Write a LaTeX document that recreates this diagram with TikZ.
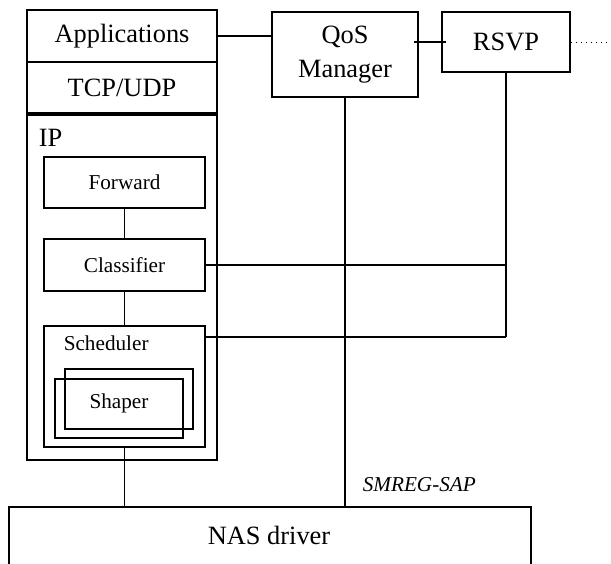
\documentclass[tikz,border=0pt]{standalone}
\usepackage{fontspec}
\setmainfont{Liberation Serif}
\usetikzlibrary{calc}

\begin{document}
\begin{tikzpicture}[x=0.5pt, y=-0.5pt, line width=0.8pt,
	box/.style={draw, rectangle, inner sep=0pt},
	big/.style={font=\fontsize{13.2}{17}\selectfont},
	small/.style={font=\fontsize{10.6}{12.5}\selectfont}]
	\useasboundingbox (0,0) rectangle (611,563);
	\clip (0,0) rectangle (611,563);
	% protocol stack
	\node [box, big, minimum width=95pt, minimum height=26pt] (apps) at (122,36) {Applications};
	\node [box, big, minimum width=95pt, minimum height=25.5pt] (tcp) at (122,87.5) {TCP/UDP};
	\node [box, minimum width=95pt, minimum height=172.5pt] (ip) at (122,287.5) {};
	\node [big, anchor=west, inner sep=0pt] (iplabel) at (38,138) {IP};
	\node [box, small, minimum width=80.5pt, minimum height=25.5pt] (fwd) at (124.5,182.5) {Forward};
	\node [box, small, minimum width=80.5pt, minimum height=26pt] (cls) at (124.5,265) {Classifier};
	\node [box, minimum width=80.5pt, minimum height=60.5pt] (sched) at (124.5,386.5) {};
	\node [small, anchor=west, inner sep=0pt] (schedlabel) at (63,343) {Scheduler};
	\node [box, minimum width=64pt, minimum height=30pt] (shapeB) at (129,399) {};
	\node [box, minimum width=64pt, minimum height=29.5pt] (shapeF) at (119,408.5) {};
	\node [small] (shaper) at (119,403) {Shaper};
	% control side
	\node [box, big, align=center, minimum width=73pt, minimum height=42.5pt] (qos) at (345,54.5) {QoS\\Manager};
	\node [box, big, minimum width=64pt, minimum height=30pt] (rsvp) at (506,42) {RSVP};
	\node [box, minimum width=261pt, minimum height=60pt, anchor=north west] (nas) at (8,506) {};
	\node [big] (naslabel) at (269,535) {NAS driver};
	\node [small, font=\fontsize{10.6}{12.5}\selectfont\itshape, anchor=west, inner sep=0pt] (sap) at (362,485) {SMREG-SAP};
	\coordinate (dotend) at (611,38);
	% connections
	\draw (apps.east) -- (apps.east -| qos.west);
	\draw [shorten <=-2.5pt, shorten >=-2.5pt] (qos.east |- rsvp.west) -- (rsvp.west);
	\draw [dotted, line width=0.5pt] (rsvp.east) -- (rsvp.east -| dotend);
	\draw (fwd) -- (cls);
	\draw (cls) -- (sched);
	\draw (sched.south) -- (sched.south |- nas.north);
	\draw (qos.south) -- (qos.south |- nas.north);
	\draw (rsvp.south) -- ($(rsvp.south |- sched.north)+(0,12)$);
	\draw (cls.east) -- (cls.east -| rsvp.south);
	\draw ($(sched.north east)+(0,12)$) -- ($(rsvp.south |- sched.north)+(0,12)$);
\end{tikzpicture}
\end{document}
